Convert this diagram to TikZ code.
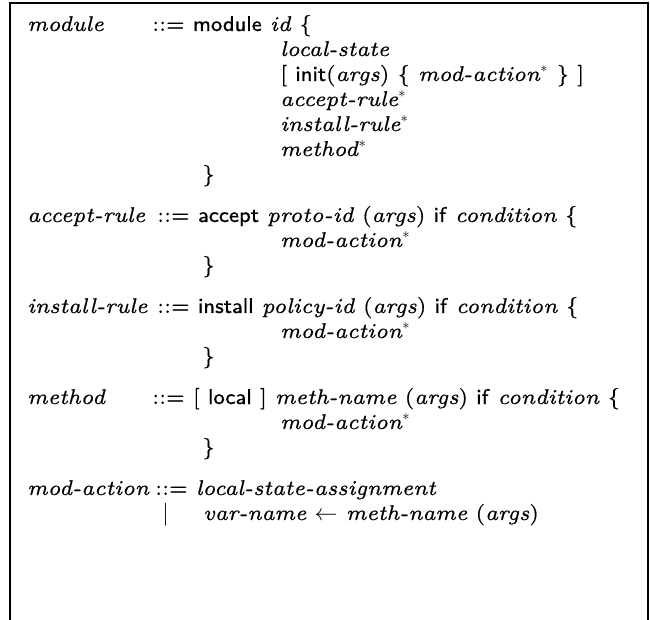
\documentclass[tikz,border=0pt]{standalone}
\usepackage{fontspec}
\setmainfont{lmroman7-regular.otf}[ItalicFont=lmroman7-italic.otf,BoldFont=lmroman7-bold.otf,
  UprightFeatures={FakeBold=0.6},ItalicFeatures={FakeBold=0.6}]
\setsansfont{lmsans8-regular.otf}[FakeBold=0.6]
\usepackage{tikz}
\newcommand{\kw}[1]{\textsf{#1}}
\newcommand{\gnt}[1]{\textit{#1}}
\newcommand{\rep}{$^{*}$}

\begin{document}
\begin{tikzpicture}[x=0.75pt,y=0.75pt,yscale=-1,xscale=1,
  txt/.style={anchor=base west,inner sep=0pt,font=\fontsize{16}{20}\selectfont}]
\path[use as bounding box] (0,0) rectangle (650,620);

%Shape: open frame
\draw[line width=1.5] (10,625) -- (10,3) -- (648,3) -- (648,625) ;

% Text Node : module
\node[txt] (lhsModule) at (27,31) {\gnt{module}};
\node[txt] (rhsModule) at (152,31) {::= \kw{module} \gnt{id} \{};
\node[txt] (modState) at (280,56) {\gnt{local-state}};
\node[txt] (modInit) at (280,81) {[ \kw{init}(\gnt{args}) \{ \gnt{mod-action}\rep{} \} ]};
\node[txt] (modAccept) at (280,106) {\gnt{accept-rule}\rep};
\node[txt] (modInstall) at (280,131) {\gnt{install-rule}\rep};
\node[txt] (modMethod) at (280,156) {\gnt{method}\rep};
\node[txt] (modClose) at (202,181) {\}};

% Text Node : accept-rule
\node[txt] (lhsAccept) at (27,222) {\gnt{accept-rule}};
\node[txt] (rhsAccept) at (157,222) {::= \kw{accept} \gnt{proto-id} (\gnt{args}) \kw{if} \gnt{condition} \{};
\node[txt] (accBody) at (280,247) {\gnt{mod-action}\rep};
\node[txt] (accClose) at (202,272) {\}};

% Text Node : install-rule
\node[txt] (lhsInstall) at (27,313) {\gnt{install-rule}};
\node[txt] (rhsInstall) at (157,313) {::= \kw{install} \gnt{policy-id} (\gnt{args}) \kw{if} \gnt{condition} \{};
\node[txt] (insBody) at (280,338) {\gnt{mod-action}\rep};
\node[txt] (insClose) at (202,363) {\}};

% Text Node : method
\node[txt] (lhsMethod) at (27,404) {\gnt{method}};
\node[txt] (rhsMethod) at (152,404) {::= [ \kw{local} ] \gnt{meth-name} (\gnt{args}) \kw{if} \gnt{condition} \{};
\node[txt] (metBody) at (280,429) {\gnt{mod-action}\rep};
\node[txt] (metClose) at (202,454) {\}};

% Text Node : mod-action
\node[txt] (lhsAction) at (27,495) {\gnt{mod-action}};
\node[txt] (rhsAction) at (155,495) {::= \gnt{local-state-assignment}};
\node[txt] (altAction) at (162,520) {$|$};
\node[txt] (rhsCall) at (203,520) {\gnt{var-name} $\leftarrow$ \gnt{meth-name} (\gnt{args})};

\end{tikzpicture}
\end{document}
